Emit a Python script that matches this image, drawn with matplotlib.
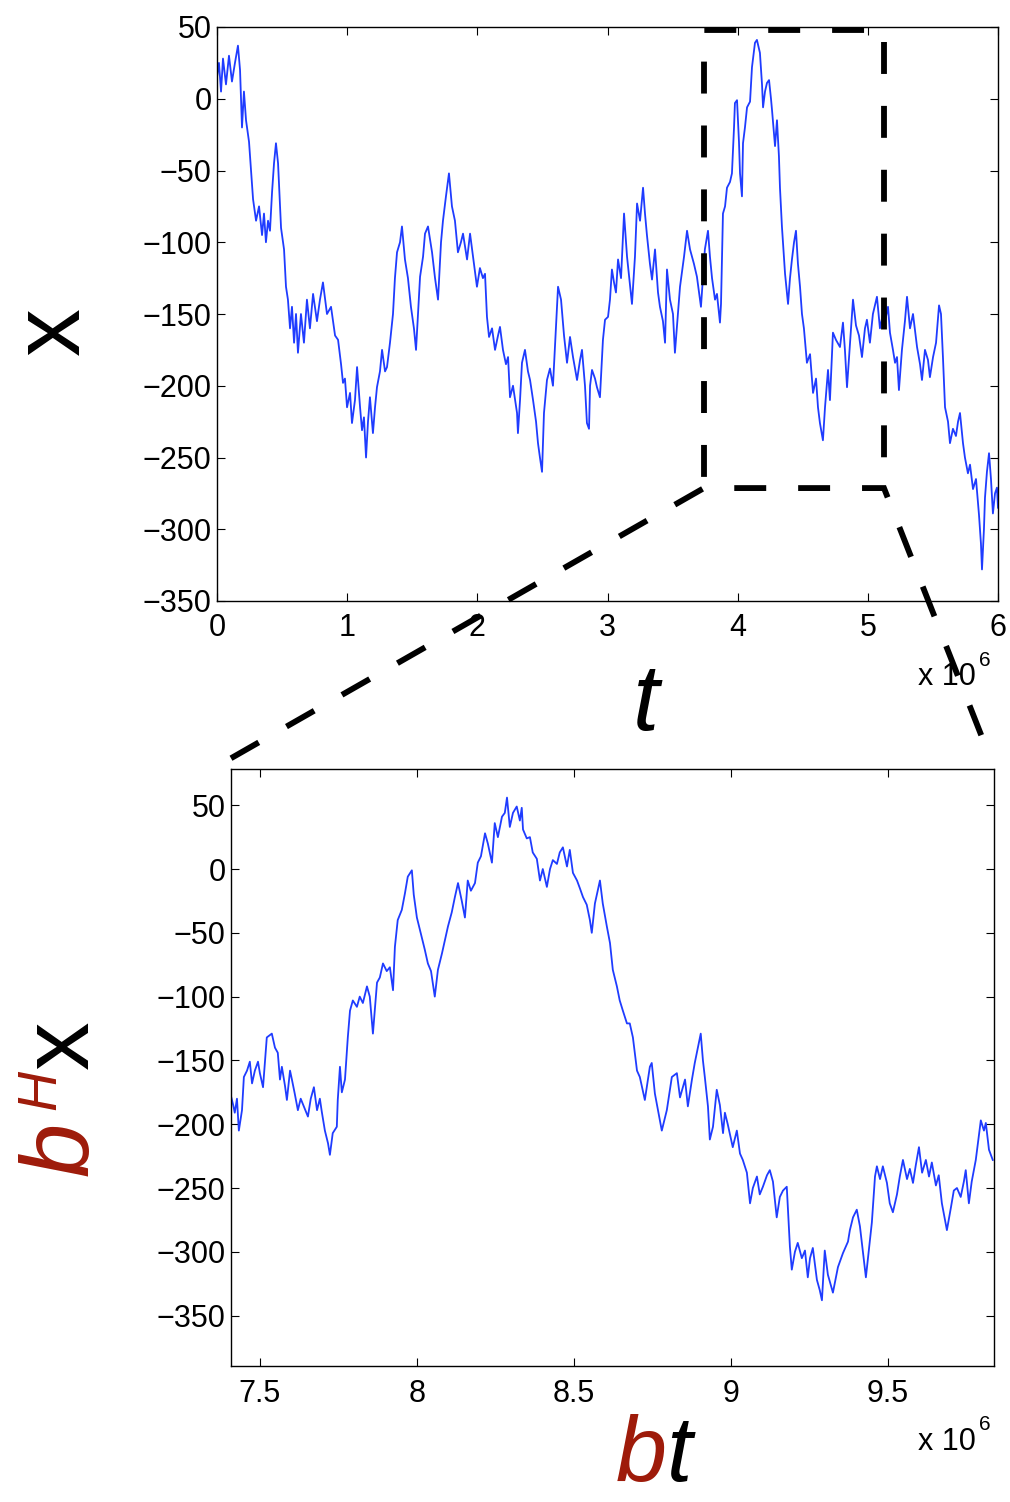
import matplotlib
matplotlib.use("Agg")
import matplotlib.pyplot as plt
from matplotlib.lines import Line2D

plt.rcParams["font.family"] = ["Liberation Sans", "DejaVu Sans"]
plt.rcParams["axes.unicode_minus"] = True

# ── data (t in units of 1e6) ────────────────────────────────────────────────
T_FULL = [0.000, 0.015, 0.031, 0.046, 0.069, 0.092, 0.115, 0.138, 0.161, 0.177,
          0.192, 0.207, 0.223, 0.246, 0.277, 0.300, 0.323, 0.346, 0.361, 0.376,
          0.392, 0.407, 0.423, 0.438, 0.453, 0.469, 0.492, 0.515, 0.530, 0.545,
          0.561, 0.576, 0.592, 0.607, 0.622, 0.645, 0.668, 0.691, 0.714, 0.738,
          0.768, 0.791, 0.814, 0.845, 0.876, 0.907, 0.930, 0.953, 0.968, 0.983,
          0.999, 1.022, 1.037, 1.060, 1.076, 1.099, 1.114, 1.129, 1.145, 1.160,
          1.175, 1.198, 1.214, 1.229, 1.252, 1.268, 1.291, 1.306, 1.329, 1.352,
          1.367, 1.383, 1.406, 1.421, 1.444, 1.467, 1.490, 1.513, 1.529, 1.544,
          1.560, 1.583, 1.598, 1.621, 1.652, 1.675, 1.698, 1.721, 1.736, 1.759,
          1.782, 1.805, 1.828, 1.851, 1.874, 1.890, 1.921, 1.944, 1.967, 1.997,
          2.020, 2.043, 2.059, 2.074, 2.090, 2.113, 2.136, 2.159, 2.174, 2.197,
          2.220, 2.236, 2.251, 2.274, 2.305, 2.312, 2.328, 2.343, 2.366, 2.389,
          2.405, 2.428, 2.451, 2.466, 2.481, 2.497, 2.512, 2.535, 2.558, 2.581,
          2.604, 2.620, 2.643, 2.666, 2.689, 2.712, 2.735, 2.766, 2.789, 2.804,
          2.827, 2.842, 2.858, 2.866, 2.881, 2.904, 2.919, 2.942, 2.965, 2.981,
          3.004, 3.019, 3.034, 3.050, 3.065, 3.081, 3.104, 3.127, 3.150, 3.173,
          3.188, 3.211, 3.227, 3.250, 3.273, 3.288, 3.303, 3.326, 3.342, 3.365,
          3.388, 3.403, 3.426, 3.442, 3.457, 3.480, 3.503, 3.518, 3.541, 3.557,
          3.588, 3.611, 3.634, 3.664, 3.687, 3.710, 3.718, 3.733, 3.748, 3.772,
          3.787, 3.803, 3.826, 3.841, 3.864, 3.872, 3.887, 3.903, 3.918, 3.941,
          3.956, 3.972, 3.979, 3.995, 4.010, 4.018, 4.033, 4.041, 4.056, 4.072,
          4.095, 4.110, 4.133, 4.148, 4.171, 4.187, 4.195, 4.210, 4.225, 4.241,
          4.256, 4.264, 4.287, 4.302, 4.317, 4.325, 4.340, 4.364, 4.387, 4.402,
          4.417, 4.433, 4.448, 4.463, 4.479, 4.494, 4.509, 4.532, 4.556, 4.579,
          4.602, 4.617, 4.632, 4.655, 4.671, 4.694, 4.709, 4.732, 4.755, 4.786,
          4.809, 4.824, 4.840, 4.863, 4.886, 4.909, 4.932, 4.955, 4.978, 4.993,
          5.016, 5.039, 5.070, 5.093, 5.116, 5.132, 5.155, 5.170, 5.193, 5.209,
          5.224, 5.239, 5.262, 5.285, 5.301, 5.324, 5.347, 5.378, 5.401, 5.416,
          5.439, 5.462, 5.477, 5.501, 5.524, 5.547, 5.562, 5.577, 5.593, 5.616,
          5.631, 5.654, 5.677, 5.693, 5.708, 5.731, 5.746, 5.769, 5.785, 5.808,
          5.831, 5.854, 5.869, 5.877, 5.892, 5.900, 5.915, 5.931, 5.946, 5.961,
          5.977, 5.992, 6.000]
X_FULL = [15, 25, 5, 28, 10, 30, 12, 25, 37, 20,
          -20, 5, -15, -30, -70, -85, -75, -95, -80, -100,
          -85, -92, -65, -45, -31, -45, -90, -105, -131, -140,
          -160, -145, -170, -150, -177, -150, -170, -140, -160, -136,
          -155, -140, -128, -150, -145, -165, -168, -185, -198, -195,
          -215, -205, -226, -210, -187, -215, -231, -222, -250, -225,
          -208, -233, -215, -201, -190, -175, -190, -187, -170, -150,
          -125, -107, -100, -89, -112, -125, -145, -160, -175, -150,
          -124, -110, -94, -89, -107, -125, -140, -100, -85, -68,
          -52, -75, -85, -107, -100, -94, -112, -94, -110, -131,
          -118, -125, -122, -152, -166, -160, -175, -165, -159, -175,
          -185, -180, -208, -200, -219, -233, -210, -184, -175, -190,
          -196, -210, -225, -240, -250, -260, -219, -196, -188, -200,
          -160, -131, -140, -165, -184, -166, -180, -196, -182, -175,
          -200, -226, -230, -200, -189, -195, -201, -208, -168, -154,
          -152, -140, -119, -128, -135, -112, -125, -80, -110, -130,
          -143, -110, -73, -85, -62, -80, -95, -115, -126, -105,
          -135, -145, -155, -170, -119, -140, -150, -177, -150, -131,
          -110, -92, -105, -115, -124, -140, -145, -125, -105, -92,
          -110, -125, -140, -136, -156, -143, -80, -75, -62, -58,
          -52, -20, -3, -1, -30, -52, -68, -31, -20, -6,
          -2, 22, 39, 41, 32, 10, -6, 5, 11, 13,
          0, -8, -33, -15, -40, -62, -89, -122, -143, -125,
          -112, -100, -92, -115, -131, -150, -160, -184, -178, -205,
          -195, -215, -226, -238, -215, -189, -210, -163, -168, -173,
          -156, -175, -201, -170, -140, -158, -165, -180, -160, -154,
          -170, -150, -138, -160, -150, -155, -145, -163, -175, -184,
          -180, -203, -175, -155, -138, -160, -150, -173, -185, -196,
          -175, -182, -194, -180, -170, -144, -150, -180, -215, -225,
          -240, -230, -235, -225, -219, -240, -250, -261, -255, -272,
          -265, -290, -310, -328, -300, -278, -260, -247, -265, -289,
          -275, -271, -285]

T_ZOOM = [7.408, 7.415, 7.420, 7.427, 7.433, 7.443, 7.449, 7.459, 7.468, 7.475,
          7.484, 7.494, 7.500, 7.510, 7.522, 7.538, 7.548, 7.557, 7.564, 7.570,
          7.580, 7.586, 7.596, 7.602, 7.611, 7.621, 7.630, 7.653, 7.662, 7.672,
          7.682, 7.691, 7.697, 7.707, 7.717, 7.723, 7.732, 7.745, 7.748, 7.755,
          7.761, 7.771, 7.780, 7.787, 7.796, 7.809, 7.818, 7.828, 7.841, 7.850,
          7.860, 7.873, 7.882, 7.892, 7.904, 7.914, 7.924, 7.930, 7.939, 7.952,
          7.962, 7.971, 7.984, 7.990, 8.000, 8.010, 8.025, 8.035, 8.045, 8.057,
          8.067, 8.080, 8.089, 8.099, 8.111, 8.121, 8.131, 8.143, 8.153, 8.162,
          8.172, 8.185, 8.194, 8.204, 8.217, 8.226, 8.239, 8.248, 8.258, 8.271,
          8.280, 8.287, 8.296, 8.306, 8.318, 8.328, 8.334, 8.338, 8.350, 8.360,
          8.369, 8.382, 8.392, 8.401, 8.414, 8.424, 8.433, 8.446, 8.455, 8.465,
          8.478, 8.487, 8.497, 8.510, 8.519, 8.529, 8.541, 8.551, 8.557, 8.567,
          8.583, 8.592, 8.605, 8.615, 8.624, 8.637, 8.646, 8.656, 8.669, 8.678,
          8.688, 8.701, 8.710, 8.726, 8.742, 8.748, 8.758, 8.780, 8.796, 8.812,
          8.828, 8.838, 8.854, 8.863, 8.876, 8.885, 8.904, 8.911, 8.917, 8.927,
          8.933, 8.943, 8.955, 8.965, 8.975, 8.981, 8.990, 9.006, 9.019, 9.029,
          9.038, 9.051, 9.061, 9.070, 9.083, 9.092, 9.102, 9.115, 9.124, 9.134,
          9.146, 9.156, 9.166, 9.178, 9.188, 9.194, 9.204, 9.213, 9.226, 9.236,
          9.245, 9.252, 9.261, 9.274, 9.283, 9.290, 9.299, 9.309, 9.325, 9.341,
          9.357, 9.373, 9.379, 9.389, 9.401, 9.411, 9.420, 9.430, 9.439, 9.449,
          9.459, 9.465, 9.475, 9.484, 9.497, 9.506, 9.516, 9.529, 9.538, 9.548,
          9.561, 9.570, 9.580, 9.589, 9.599, 9.609, 9.621, 9.631, 9.640, 9.653,
          9.662, 9.672, 9.688, 9.701, 9.710, 9.720, 9.732, 9.742, 9.748, 9.758,
          9.767, 9.780, 9.796, 9.806, 9.812, 9.822, 9.834]
X_ZOOM = [-178, -185, -191, -180, -205, -189, -163, -158, -151, -168,
          -158, -151, -160, -171, -132, -129, -140, -144, -165, -155,
          -170, -181, -158, -165, -176, -189, -180, -194, -180, -171,
          -189, -180, -190, -205, -215, -224, -207, -202, -181, -155,
          -175, -165, -132, -111, -103, -108, -100, -105, -92, -100,
          -129, -89, -85, -74, -80, -77, -95, -61, -40, -32,
          -19, -6, -1, -20, -38, -48, -63, -74, -80, -100,
          -79, -66, -56, -45, -34, -22, -11, -25, -38, -9,
          -17, -11, 5, 10, 28, 20, 5, 36, 25, 41,
          44, 56, 33, 44, 49, 38, 48, 31, 24, 25,
          13, 8, -9, 0, -14, 0, 7, 4, 13, 17,
          2, 15, -3, -9, -15, -22, -28, -40, -50, -27,
          -9, -27, -45, -58, -79, -92, -103, -111, -121, -121,
          -132, -158, -163, -181, -155, -152, -176, -205, -189, -163,
          -160, -179, -165, -186, -165, -152, -129, -150, -163, -186,
          -212, -202, -173, -185, -207, -191, -200, -218, -205, -223,
          -228, -238, -262, -250, -241, -255, -249, -240, -236, -245,
          -273, -257, -252, -249, -296, -314, -300, -293, -305, -299,
          -320, -305, -297, -322, -330, -338, -299, -318, -332, -312,
          -301, -292, -283, -273, -267, -280, -299, -320, -300, -277,
          -241, -233, -243, -233, -246, -262, -269, -255, -241, -228,
          -243, -235, -246, -232, -218, -238, -228, -241, -230, -248,
          -240, -262, -283, -265, -252, -250, -257, -245, -236, -262,
          -245, -228, -197, -205, -199, -220, -228]

FULL_XTICKS = [0, 1, 2, 3, 4, 5, 6]
ZOOM_XTICKS = [7.5, 8, 8.5, 9, 9.5]
ZOOM_XLABELS = ["7.5", "8", "8.5", "9", "9.5"]
YTICKS = [-350, -300, -250, -200, -150, -100, -50, 0, 50]

# zoom window drawn on the top panel
BOX_T = (3.741, 5.124)
BOX_X = (-271.3, 47.9)

BLUE = "#1f3cff"
RED = "#9e1b0a"

# ── figure ────────────────────────────────────────────────────────────────────
W, H = 1010, 1502
fig = plt.figure(figsize=(W / 100, H / 100), dpi=100)


def fx(px):
    return px / W


def fy(py):
    return 1 - py / H


ax1 = fig.add_axes([fx(217), fy(601), fx(998) - fx(217), fy(27) - fy(601)])
ax2 = fig.add_axes([fx(231), fy(1366), fx(994) - fx(231), fy(769) - fy(1366)])

ax1.plot(T_FULL, X_FULL, color=BLUE, lw=1.3)
ax1.set_xlim(0, 6)
ax1.set_ylim(-350, 50)
ax1.set_xticks(FULL_XTICKS)
ax1.set_yticks(YTICKS)

ax2.plot(T_ZOOM, X_ZOOM, color=BLUE, lw=1.3)
ax2.set_xlim(7.408, 9.838)
ax2.set_ylim(-389.5, 78.4)
ax2.set_xticks(ZOOM_XTICKS)
ax2.set_xticklabels(ZOOM_XLABELS)
ax2.set_yticks(YTICKS)

for ax in (ax1, ax2):
    ax.tick_params(direction="in", length=6, width=0.8, top=True, right=True,
                   labelsize=22)
    ax.tick_params(axis="x", pad=9)
    ax.tick_params(axis="y", pad=4)
    for s in ax.spines.values():
        s.set_linewidth(1.0)

# ── "x 10^6" multipliers ────────────────────────────────────────────────────
for base_y, sup_y in ((685, 666), (1450, 1430)):
    fig.text(fx(918), fy(base_y), "x 10", fontsize=22, ha="left", va="baseline")
    fig.text(fx(979), fy(sup_y), "6", fontsize=15, ha="left", va="baseline")

# ── axis labels ─────────────────────────────────────────────────────────────
fig.text(fx(79), fy(331), "x", fontsize=69, rotation=90, rotation_mode="anchor",
         ha="center", va="baseline")
fig.text(fx(646), fy(730), "t", fontsize=68, style="italic",
         ha="center", va="baseline")

fig.text(fx(88), fy(1176), "b", fontsize=70, style="italic", color=RED,
         rotation=90, rotation_mode="anchor", ha="left", va="baseline")
fig.text(fx(55), fy(1110), "H", fontsize=40, style="italic", color=RED,
         rotation=90, rotation_mode="anchor", ha="left", va="baseline")
fig.text(fx(88), fy(1069), "x", fontsize=70, rotation=90,
         rotation_mode="anchor", ha="left", va="baseline")

fig.text(fx(667), fy(1481), "b", fontsize=66, style="italic", color=RED,
         ha="right", va="baseline")
fig.text(fx(667), fy(1481), "t", fontsize=66, style="italic",
         ha="left", va="baseline")

# ── dashed zoom box and connectors ──────────────────────────────────────────
inv = fig.transFigure.inverted()


def data_pt(ax, x, y):
    return inv.transform(ax.transData.transform((x, y)))


def axes_pt(ax, x, y):
    return inv.transform(ax.transAxes.transform((x, y)))


bl = data_pt(ax1, BOX_T[0], BOX_X[0])
tl = data_pt(ax1, BOX_T[0], BOX_X[1])
tr = data_pt(ax1, BOX_T[1], BOX_X[1])
br = data_pt(ax1, BOX_T[1], BOX_X[0])
z_left = axes_pt(ax2, 0.0, 1.018)
z_right = axes_pt(ax2, 0.997, 1.012)

LW = 4.2
on = 23 / LW   # dash pattern is scaled by the line width
box_ls = (38 / LW, (on, on))
link_ls = (0, (on, on))
for pts, ls in (([bl, tl, tr, br], box_ls), ([z_left, bl, br, z_right], link_ls)):
    xs = [p[0] for p in pts]
    ys = [p[1] for p in pts]
    fig.add_artist(Line2D(xs, ys, transform=fig.transFigure, color="black",
                          lw=LW, linestyle=ls, dash_capstyle="butt",
                          dash_joinstyle="miter"))

fig.savefig("out.png", dpi=100)
